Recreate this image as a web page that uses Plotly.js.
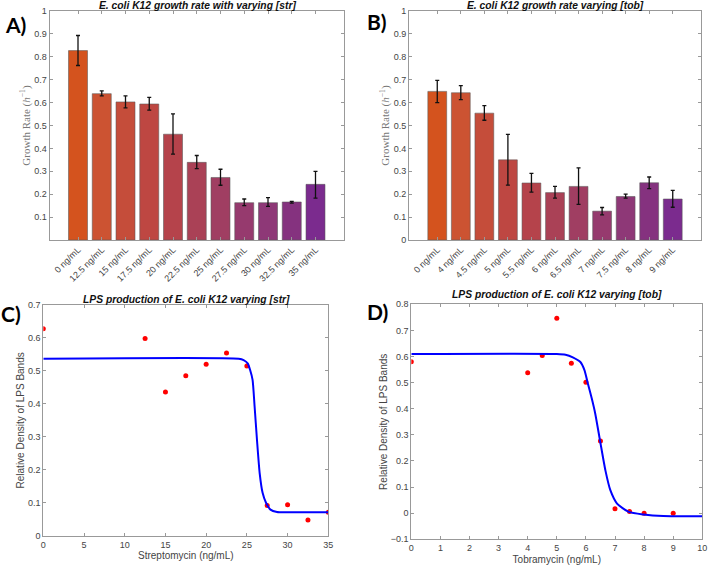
<!DOCTYPE html>
<html>
<head>
<meta charset="utf-8">
<script src="https://cdn.plot.ly/plotly-3.0.1.min.js"></script>
<style>
  body { margin: 0; background: #fff; }
  #graph { width: 708px; height: 565px; }
</style>
</head>
<body>
<div id="graph"></div>
<script>
// Panel A - growth rate vs streptomycin
var strLabels = ['0 ng/mL', '12.5 ng/mL', '15 ng/mL', '17.5 ng/mL', '20 ng/mL', '22.5 ng/mL',
  '25 ng/mL', '27.5 ng/mL', '30 ng/mL', '32.5 ng/mL', '35 ng/mL'];
var strRate = [0.827, 0.639, 0.603, 0.594, 0.462, 0.339, 0.273, 0.163, 0.163, 0.166, 0.243];
var strUpper = [0.893, 0.651, 0.629, 0.623, 0.551, 0.369, 0.309, 0.179, 0.185, 0.169, 0.300];
var strLower = [0.762, 0.629, 0.577, 0.567, 0.375, 0.312, 0.239, 0.150, 0.147, 0.161, 0.183];

// Panel B - growth rate vs tobramycin
var tobLabels = ['0 ng/mL', '4 ng/mL', '4.5 ng/mL', '5 ng/mL', '5.5 ng/mL', '6 ng/mL',
  '6.5 ng/mL', '7 ng/mL', '7.5 ng/mL', '8 ng/mL', '9 ng/mL'];
var tobRate = [0.649, 0.643, 0.554, 0.350, 0.249, 0.207, 0.234, 0.126, 0.190, 0.250, 0.179];
var tobUpper = [0.697, 0.674, 0.587, 0.461, 0.291, 0.234, 0.315, 0.142, 0.200, 0.275, 0.217];
var tobLower = [0.600, 0.613, 0.523, 0.240, 0.209, 0.183, 0.156, 0.110, 0.183, 0.224, 0.143];

// Panel C - LPS density vs streptomycin
var strConc = [0, 12.5, 15, 17.5, 20, 22.5, 25, 27.5, 30, 32.5, 35];
var strLps = [0.628, 0.598, 0.436, 0.485, 0.520, 0.554, 0.515, 0.092, 0.094, 0.048, 0.071];
var strFitX = [0, 24.0, 24.6, 25.1, 25.4, 25.7, 25.95, 26.24, 26.57, 26.93, 27.35, 27.9, 28.7, 30, 35];
var strFitY = [0.537, 0.537, 0.533, 0.523, 0.503, 0.473, 0.392, 0.291, 0.19, 0.13, 0.1, 0.079, 0.072, 0.071, 0.071];

// Panel D - LPS density vs tobramycin
var tobConc = [0, 4, 4.5, 5, 5.5, 6, 6.5, 7, 7.5, 8, 9];
var tobLps = [0.580, 0.538, 0.604, 0.747, 0.574, 0.501, 0.276, 0.017, 0.006, 0.0, 0.0];
var tobFitX = [0, 5.0, 5.3, 5.55, 5.81, 5.95, 6.06, 6.2, 6.32, 6.49, 6.67, 6.84, 7.07, 7.47, 7.98, 8.66, 10];
var tobFitY = [0.61, 0.61, 0.607, 0.597, 0.579, 0.548, 0.50, 0.44, 0.382, 0.275, 0.164, 0.088, 0.037, 0.005, -0.005, -0.011, -0.012];

var barColors = ['#D4531E', '#CC5332', '#C54D3A', '#BE4742', '#B5434B', '#AA4156',
  '#A03E62', '#963A6E', '#8E3877', '#85327F', '#7B2B8E'];

var W = 708, H = 565;
function px(x) { return x / W; }
function py(y) { return 1 - y / H; }

function diff(a, b) { return a.map(function (v, i) { return Math.abs(v - b[i]); }); }

function barTrace(labels, vals, up, lo, xa, ya) {
  return {
    type: 'bar', x: labels, y: vals, xaxis: xa, yaxis: ya,
    marker: { color: barColors, line: { color: 'rgba(90,90,90,0.55)', width: 1 } },
    error_y: { type: 'data', symmetric: false, array: diff(up, vals), arrayminus: diff(vals, lo),
      color: '#111', thickness: 1.3, width: 2 },
    hoverinfo: 'none'
  };
}

var data = [
  barTrace(strLabels, strRate, strUpper, strLower, 'x', 'y'),
  barTrace(tobLabels, tobRate, tobUpper, tobLower, 'x2', 'y2'),
  { type: 'scatter', mode: 'markers', x: strConc, y: strLps, xaxis: 'x3', yaxis: 'y3',
    marker: { color: '#F00', size: 5 } },
  { type: 'scatter', mode: 'lines', x: strFitX, y: strFitY, xaxis: 'x3', yaxis: 'y3',
    line: { color: '#0000FF', width: 2, shape: 'spline', smoothing: 0.6 } },
  { type: 'scatter', mode: 'markers', x: tobConc, y: tobLps, xaxis: 'x4', yaxis: 'y4',
    marker: { color: '#F00', size: 5 } },
  { type: 'scatter', mode: 'lines', x: tobFitX, y: tobFitY, xaxis: 'x4', yaxis: 'y4',
    line: { color: '#0000FF', width: 2, shape: 'spline', smoothing: 0.6 } }
];

var sans = 'Liberation Sans, Arial, sans-serif';
var tickFont = { family: sans, size: 9, color: '#444' };
var axisBase = {
  showline: true, linecolor: '#999', linewidth: 1, mirror: 'ticks',
  ticks: 'inside', ticklen: 3, tickcolor: '#999', showgrid: false, zeroline: false,
  tickfont: tickFont, fixedrange: true
};
function ax(extra) { return Object.assign({}, axisBase, extra); }

var growthTitle = {
  text: 'Growth Rate (<i>h</i><sup>\u22121</sup>)',
  font: { family: 'Liberation Serif, serif', size: 11, color: '#777' }, standoff: 1
};
var lpsFont = { family: sans, size: 10, color: '#444' };
var lpsTitle = { text: 'Relative Density of LPS Bands', font: lpsFont, standoff: 1 };

var layout = {
  width: W, height: H,
  margin: { l: 0, r: 0, t: 0, b: 0 },
  paper_bgcolor: '#fff', plot_bgcolor: '#fff',
  showlegend: false, bargap: 0.2,
  xaxis: ax({ domain: [px(49.5), px(344)], anchor: 'y', type: 'category', range: [-1.2, 11.2],
    tickangle: -45 }),
  yaxis: ax({ domain: [py(240), py(11)], anchor: 'x', range: [0, 1],
    tickvals: [0.1, 0.2, 0.3, 0.4, 0.5, 0.6, 0.7, 0.8, 0.9, 1], ticktext: ['0.1', '0.2', '0.3', '0.4', '0.5', '0.6', '0.7', '0.8', '0.9', '1'],
    title: growthTitle }),
  xaxis2: ax({ domain: [px(409), px(701)], anchor: 'y2', type: 'category', range: [-1.2, 11.2],
    tickangle: -45 }),
  yaxis2: ax({ domain: [py(240), py(11)], anchor: 'x2', range: [0, 1], dtick: 0.1,
    title: growthTitle }),
  xaxis3: ax({ domain: [px(43.3), px(328.3)], anchor: 'y3', range: [0, 35], dtick: 5,
    title: { text: 'Streptomycin (ng/mL)', font: lpsFont, standoff: 3 } }),
  yaxis3: ax({ domain: [py(535.7), py(305)], anchor: 'x3', range: [0, 0.7], dtick: 0.1,
    title: lpsTitle }),
  xaxis4: ax({ domain: [px(411.3), px(702.3)], anchor: 'y4', range: [0, 10], dtick: 1,
    title: { text: 'Tobramycin (ng/mL)', font: lpsFont, standoff: 3 } }),
  yaxis4: ax({ domain: [py(539.3), py(304.3)], anchor: 'x4', range: [-0.1, 0.8], dtick: 0.1,
    title: lpsTitle }),
  annotations: []
};

var titleFont = { family: sans, size: 10.3, color: '#111' };
var titles = [
  ['<b><i>E. coli K12 growth rate with varying [str]</i></b>', 197, 6],
  ['<b><i>E. coli K12 growth rate varying [tob]</i></b>', 555, 5],
  ['<b><i>LPS production of E. coli K12 varying [str]</i></b>', 186, 299],
  ['<b><i>LPS production of E. coli K12 varying [tob]</i></b>', 557, 294]
];
titles.forEach(function (t) {
  layout.annotations.push({ xref: 'paper', yref: 'paper', x: px(t[1]), y: py(t[2]),
    xanchor: 'center', yanchor: 'middle', showarrow: false, text: t[0], font: titleFont });
});

var panelFont = { family: 'Lato, Open Sans, sans-serif', size: 21, color: '#000' };
var panels = [['A)', 3, 25], ['B)', 365, 22], ['C)', -1, 313], ['D)', 365, 311]];
panels.forEach(function (p) {
  layout.annotations.push({ xref: 'paper', yref: 'paper', x: px(p[1]), y: py(p[2]),
    xanchor: 'left', yanchor: 'middle', showarrow: false, text: '<b>' + p[0] + '</b>', font: panelFont });
});

Plotly.newPlot('graph', data, layout, { displayModeBar: false, staticPlot: true });
</script>
</body>
</html>
